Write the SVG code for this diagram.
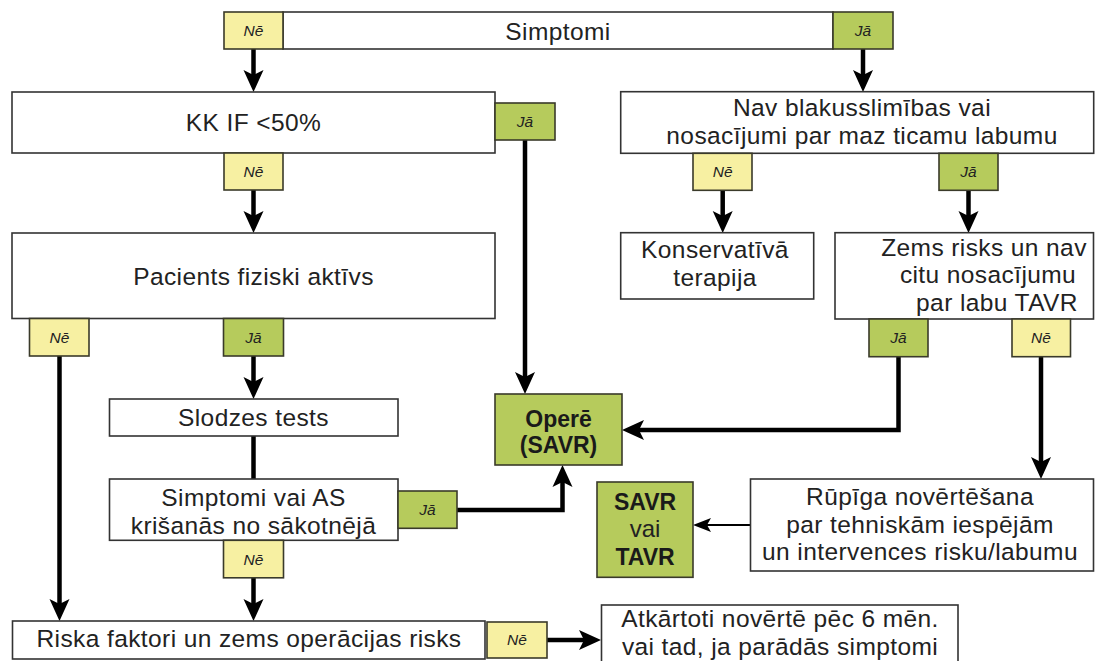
<svg xmlns="http://www.w3.org/2000/svg" width="1096" height="661" viewBox="0 0 1096 661">
<defs>
<style>
.box{fill:#fff;stroke:#333;stroke-width:1.6}
.yes{fill:#b6cb5c;stroke:#3a3a2a;stroke-width:1.6}
.no{fill:#f7f0a2;stroke:#3a3a2a;stroke-width:1.6}
.t{font-family:"Liberation Sans",Arial,sans-serif;font-size:24.5px;letter-spacing:0.4px;fill:#222;text-anchor:middle}
.b{font-family:"Liberation Sans",Arial,sans-serif;font-size:23px;font-weight:bold;fill:#1a1a1a;text-anchor:middle}
.l{font-family:"Liberation Sans",Arial,sans-serif;font-size:15.5px;font-style:italic;fill:#222;text-anchor:middle}
.c{fill:none;stroke:#000;stroke-width:4.5}
.ct{fill:none;stroke:#000;stroke-width:2.2}
</style>
<marker id="ah" markerUnits="userSpaceOnUse" markerWidth="24" markerHeight="22" viewBox="0 0 24 22" refX="14" refY="11" orient="auto">
<path d="M0,1 L22,11 L0,21 L5,11 z" fill="#000"/>
</marker>
<marker id="aht" markerUnits="userSpaceOnUse" markerWidth="20" markerHeight="16" viewBox="0 0 20 16" refX="14" refY="8" orient="auto">
<path d="M0,1 L18,8 L0,15 L4,8 z" fill="#000"/>
</marker>
</defs>
<rect width="1096" height="661" fill="#fff"/>

<g id="connectors">
<path class="c" d="M253.5,49 V84" marker-end="url(#ah)"/>
<path class="c" d="M863,49 V84" marker-end="url(#ah)"/>
<path class="c" d="M253.5,190 V225" marker-end="url(#ah)"/>
<path class="c" d="M722.7,190 V225" marker-end="url(#ah)"/>
<path class="c" d="M968.5,190 V225" marker-end="url(#ah)"/>
<path class="c" d="M525,140 V386" marker-end="url(#ah)"/>
<path class="c" d="M59.5,356 V613" marker-end="url(#ah)"/>
<path class="c" d="M253.5,356 V391" marker-end="url(#ah)"/>
<path class="c" d="M253.5,436 V479"/>
<path class="c" d="M253.5,578 V613" marker-end="url(#ah)"/>
<path class="c" d="M457,510 H562.5 V473" marker-end="url(#ah)"/>
<path class="c" d="M898.5,356.7 V430 H630" marker-end="url(#ah)"/>
<path class="c" d="M1041,356.7 V471" marker-end="url(#ah)"/>
<path class="ct" d="M750,525 H697" marker-end="url(#aht)"/>
<path class="c" d="M547,640 H593" marker-end="url(#ah)"/>
</g>

<g id="simptomi">
<rect class="box" x="283" y="12" width="550" height="37"/>
<text class="t" x="558" y="39.5">Simptomi</text>
<rect class="no" x="224" y="12" width="59" height="37"/>
<text class="l" x="253.5" y="36">Nē</text>
<rect class="yes" x="833" y="12" width="60" height="37"/>
<text class="l" x="863" y="36">Jā</text>
</g>

<g id="kk-if">
<rect class="box" x="12" y="92" width="483" height="61"/>
<text class="t" x="253.5" y="131">KK IF &lt;50%</text>
<rect class="yes" x="495" y="103" width="60" height="37"/>
<text class="l" x="525" y="127">Jā</text>
<rect class="no" x="224" y="153" width="59" height="37"/>
<text class="l" x="253.5" y="177">Nē</text>
</g>

<g id="nav-blakus">
<rect class="box" x="620.7" y="91.7" width="473" height="61.6"/>
<text class="t" x="862" y="116">Nav blakusslimības vai</text>
<text class="t" x="862" y="143.5">nosacījumi par maz ticamu labumu</text>
<rect class="no" x="693" y="153.3" width="59" height="37"/>
<text class="l" x="722.7" y="177">Nē</text>
<rect class="yes" x="939" y="153.3" width="59" height="37"/>
<text class="l" x="968.5" y="177">Jā</text>
</g>

<g id="pacients">
<rect class="box" x="12" y="233" width="483" height="85.5"/>
<text class="t" x="253.5" y="285">Pacients fiziski aktīvs</text>
<rect class="no" x="29.5" y="318.5" width="59.5" height="37.5"/>
<text class="l" x="59.5" y="343">Nē</text>
<rect class="yes" x="223.5" y="318.5" width="60" height="37.5"/>
<text class="l" x="253.5" y="343">Jā</text>
</g>

<g id="konservativa">
<rect class="box" x="620.7" y="232.7" width="193" height="66.3"/>
<text class="t" x="715" y="258">Konservatīvā</text>
<text class="t" x="715" y="286">terapija</text>
</g>

<g id="zems-risks">
<rect class="box" x="835" y="232.7" width="258.5" height="86.3"/>
<text class="t" x="984" y="255.5">Zems risks un nav</text>
<text class="t" x="988" y="283">citu nosacījumu</text>
<text class="t" x="997" y="310.5">par labu TAVR</text>
<rect class="yes" x="869" y="319" width="59" height="37.7"/>
<text class="l" x="898.5" y="343">Jā</text>
<rect class="no" x="1012" y="319" width="58.5" height="37.7"/>
<text class="l" x="1041" y="343">Nē</text>
</g>

<g id="slodzes">
<rect class="box" x="109.5" y="399" width="288.5" height="37"/>
<text class="t" x="253.5" y="426">Slodzes tests</text>
</g>

<g id="opere">
<rect class="yes" x="495" y="394" width="127" height="71"/>
<text class="b" x="558.5" y="426.7">Operē</text>
<text class="b" x="558.5" y="453">(SAVR)</text>
</g>

<g id="simptomi-as">
<rect class="box" x="109.5" y="479" width="288.5" height="61.3"/>
<text class="t" x="253.5" y="506">Simptomi vai AS</text>
<text class="t" x="253.5" y="533.5">krišanās no sākotnējā</text>
<rect class="yes" x="398" y="491" width="59" height="37.3"/>
<text class="l" x="427.5" y="515">Jā</text>
<rect class="no" x="223.5" y="540.3" width="60" height="37.5"/>
<text class="l" x="253.5" y="565">Nē</text>
</g>

<g id="savr-tavr">
<rect class="yes" x="597" y="482" width="96" height="95.3"/>
<text class="b" x="645" y="510">SAVR</text>
<text class="t" x="645" y="537" style="font-size:24px;letter-spacing:0">vai</text>
<text class="b" x="645" y="565">TAVR</text>
</g>

<g id="rupiga">
<rect class="box" x="750.5" y="479" width="343" height="92"/>
<text class="t" x="920" y="505">Rūpīga novērtēšana</text>
<text class="t" x="920" y="532.5">par tehniskām iespējām</text>
<text class="t" x="920" y="560">un intervences risku/labumu</text>
</g>

<g id="riska">
<rect class="box" x="12.5" y="621" width="472.5" height="38"/>
<text class="t" x="249" y="647">Riska faktori un zems operācijas risks</text>
<rect class="no" x="487" y="622" width="60" height="36"/>
<text class="l" x="517" y="645">Nē</text>
</g>

<g id="atkartoti">
<rect class="box" x="601.5" y="605" width="356.5" height="70"/>
<text class="t" x="780" y="627">Atkārtoti novērtē pēc 6 mēn.</text>
<text class="t" x="780" y="654.5">vai tad, ja parādās simptomi</text>
</g>
</svg>
